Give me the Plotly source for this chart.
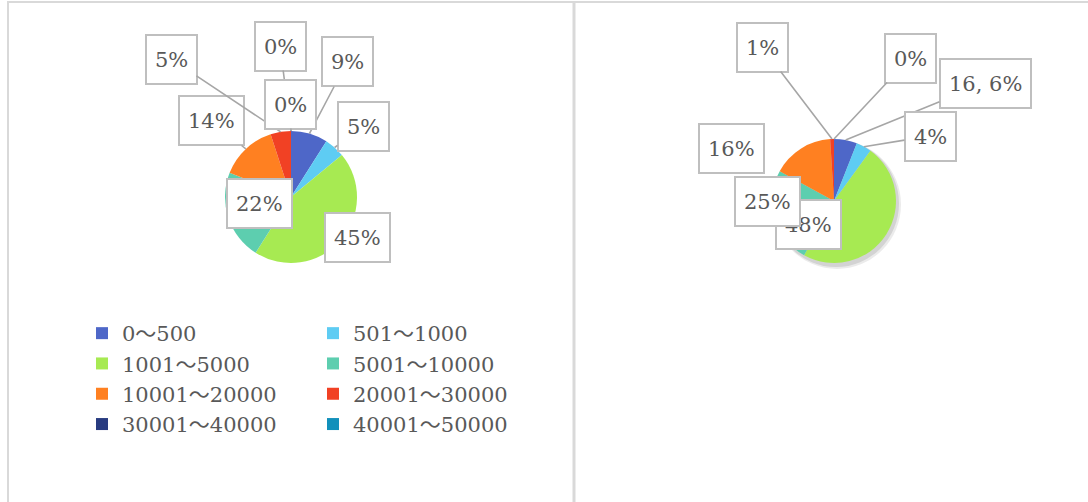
import math
import plotly.graph_objects as go

# ---------------- data ----------------
categories = ["0～500", "501～1000", "1001～5000", "5001～10000",
              "10001～20000", "20001～30000", "30001～40000", "40001～50000"]
left_values = [9, 5, 45, 22, 14, 5, 0, 0]
right_values = [6, 4, 48, 25, 16, 1, 0, 0]
right_label_prefix = ["16, ", "", "", "", "", "", "", ""]

# ---------------- style ----------------
colors = ["#4E67C8", "#5ECCF3", "#A7EA52", "#5DCEAF",
          "#FF8021", "#F14124", "#283B80", "#1290BB"]
FONT = "DejaVu Serif, Noto Sans CJK JP, serif"
TXT = "#595959"

W, H = 1088, 502
ML, MR = 222, 190
PW = W - ML - MR


def px(x):
    return (x - ML) / PW


def py(y):
    return 1 - y / H


LEFT = dict(cx=291, cy=197, r=66)
RIGHT = dict(cx=834, cy=201, r=62)

# label box centres (pixels) and whether a leader line is drawn
left_boxes = [(347, 62, True), (363, 126, True), (324, 237, False), (226, 203, False),
              (211, 121, True), (171, 59, True), (280, 46, True), (290, 104, True)]
right_boxes = [(985, 83, True), (930, 136, True), (842, 224, False), (801, 201, False),
               (765, 123, False), (762, 47, True), (910, 58, True), None]

fig = go.Figure()


def add_pie(values, geo, legend_name):
    cx, cy, r = geo["cx"], geo["cy"], geo["r"]
    fig.add_trace(go.Pie(
        labels=categories, values=values, sort=False, direction="clockwise",
        rotation=0, textinfo="none", hoverinfo="label+percent",
        marker=dict(colors=colors, line=dict(width=0)),
        domain=dict(x=[px(cx - r), px(cx + r)], y=[py(cy + r), py(cy - r)]),
        legend=legend_name, showlegend=True,
    ))


add_pie(left_values, LEFT, "legend")
add_pie(right_values, RIGHT, "legend2")

annotations = []


def add_labels(values, geo, boxes, prefixes=None):
    total = sum(values)
    cum = 0
    for i, v in enumerate(values):
        mid = (cum + v / 2) / total
        cum += v
        box = boxes[i]
        if box is None:
            continue
        bx, by, leader = box
        text = f"{round(100 * v / total)}%"
        if prefixes:
            text = prefixes[i] + text
        common = dict(text=text, xref="paper", yref="paper",
                      font=dict(family=FONT, size=21, color=TXT),
                      bgcolor="white", bordercolor="#BFBFBF", borderwidth=2,
                      borderpad=8, height=31)
        if leader:
            ang = 2 * math.pi * mid
            tx = geo["cx"] + geo["r"] * math.sin(ang)
            ty = geo["cy"] - geo["r"] * math.cos(ang)
            annotations.append(dict(
                x=px(tx), y=py(ty), ax=bx - tx, ay=by - ty,
                showarrow=True, arrowhead=0, arrowwidth=1.6,
                arrowcolor="#A6A6A6", standoff=0, **common))
        else:
            annotations.append(dict(x=px(bx), y=py(by), showarrow=False, **common))


add_labels(left_values, LEFT, left_boxes)
add_labels(right_values, RIGHT, right_boxes, right_label_prefix)

border = "#D9D9D9"
rc, rr = RIGHT["cx"], RIGHT["cy"]
R = RIGHT["r"]
shapes = [
    dict(type="line", xref="paper", yref="paper", x0=px(7), x1=px(W), y0=py(2), y1=py(2),
         line=dict(color=border, width=2)),
    dict(type="line", xref="paper", yref="paper", x0=px(8), x1=px(8), y0=py(2), y1=py(H),
         line=dict(color=border, width=2)),
    dict(type="line", xref="paper", yref="paper", x0=px(574), x1=px(574), y0=py(2), y1=py(H),
         line=dict(color=border, width=3)),
    # soft shadow under the right pie
    dict(type="circle", xref="paper", yref="paper", layer="below",
         x0=px(rc - R + 1), x1=px(rc + R + 5), y0=py(rr + R + 6), y1=py(rr - R + 1),
         fillcolor="rgba(0,0,0,0.08)", line=dict(width=0)),
    dict(type="circle", xref="paper", yref="paper", layer="below",
         x0=px(rc - R + 1), x1=px(rc + R + 3), y0=py(rr + R + 4), y1=py(rr - R + 1),
         fillcolor="rgba(0,0,0,0.10)", line=dict(width=0)),
]

legend_common = dict(orientation="h", entrywidth=186, entrywidthmode="pixels",
                     font=dict(family=FONT, size=21, color=TXT),
                     xanchor="left", yanchor="top", bgcolor="rgba(0,0,0,0)",
                     traceorder="normal", itemclick=False, itemdoubleclick=False)

fig.update_layout(
    width=W, height=H,
    margin=dict(l=ML, r=MR, t=0, b=0, autoexpand=False),
    paper_bgcolor="white", plot_bgcolor="white",
    annotations=annotations, shapes=shapes,
    legend=dict(x=px(82), y=py(313), **legend_common),
    legend2=dict(x=px(629), y=py(314), **legend_common),
)

fig.write_html("out.html", config={"displayModeBar": False},
               post_script="document.body.style.margin='0';document.body.style.overflow='hidden';")
